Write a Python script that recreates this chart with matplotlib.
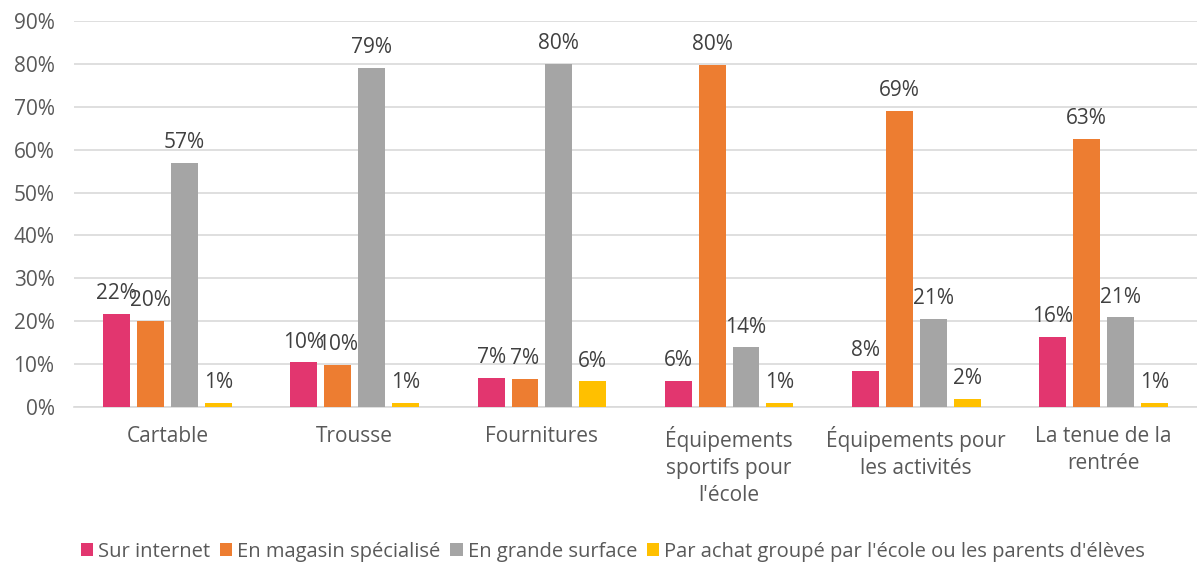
import matplotlib.pyplot as plt
import numpy as np

plt.rcParams['font.family'] = ['Open Sans', 'DejaVu Sans']

categories = ["Cartable", "Trousse", "Fournitures",
              "Équipements\nsportifs pour\nl'école", "Équipements pour\nles activités",
              "La tenue de la\nrentrée"]
series = ["Sur internet", "En magasin spécialisé", "En grande surface",
          "Par achat groupé par l'école ou les parents d'élèves"]
internet = [21.8, 10.4, 6.8, 6.1, 8.4, 16.3]
magasin = [20.0, 9.8, 6.6, 79.7, 69.0, 62.6]
grande_surface = [57.0, 79.0, 80.0, 13.9, 20.6, 20.9]
achat_groupe = [1.0, 1.0, 6.0, 1.0, 1.9, 1.0]
colors = ['#E2366F', '#ED7D31', '#A5A5A5', '#FFC000']

fig = plt.figure(figsize=(11.97, 5.62), dpi=100)
ax = fig.add_axes([74 / 1197, 1 - 407 / 562, 1123 / 1197, 386 / 562])

x = np.arange(len(categories))
step = 0.181
width = 0.144
data = [internet, magasin, grande_surface, achat_groupe]
for k, (vals, col, name) in enumerate(zip(data, colors, series)):
    pos = x + (k - 1.5) * step
    bars = ax.bar(pos, vals, width, color=col, label=name, zorder=3)
    for b, v in zip(bars, vals):
        ax.annotate(f"{round(v):d}%", (b.get_x() + b.get_width() / 2, v),
                    xytext=(0, 7), textcoords='offset points',
                    ha='center', va='bottom', fontsize=15, color='#404040')

ax.set_xlim(-0.5, len(categories) - 0.5)
ax.set_ylim(0, 90)
ax.set_yticks(range(0, 91, 10))
ax.set_yticklabels([f"{t}%" for t in range(0, 91, 10)])
ax.set_xticks(x)
ax.set_xticklabels(categories, linespacing=1.35)
ax.tick_params(axis='both', length=0, labelsize=15, colors='#595959')
ax.tick_params(axis='x', pad=14)
ax.tick_params(axis='y', pad=14)
ax.grid(axis='y', color='#D9D9D9', linewidth=1.2, zorder=0)
for s in ['top', 'right', 'left']:
    ax.spines[s].set_visible(False)
ax.spines['bottom'].set_color('#D9D9D9')
ax.spines['bottom'].set_linewidth(1.2)

fig.legend(loc='lower center', bbox_to_anchor=(0.512, -0.032), ncol=4, frameon=False,
           fontsize=14.5, handlelength=0.6, handleheight=0.6, handletextpad=0.25,
           columnspacing=0.5, labelcolor='#595959')

fig.savefig('out.png', dpi=100)
